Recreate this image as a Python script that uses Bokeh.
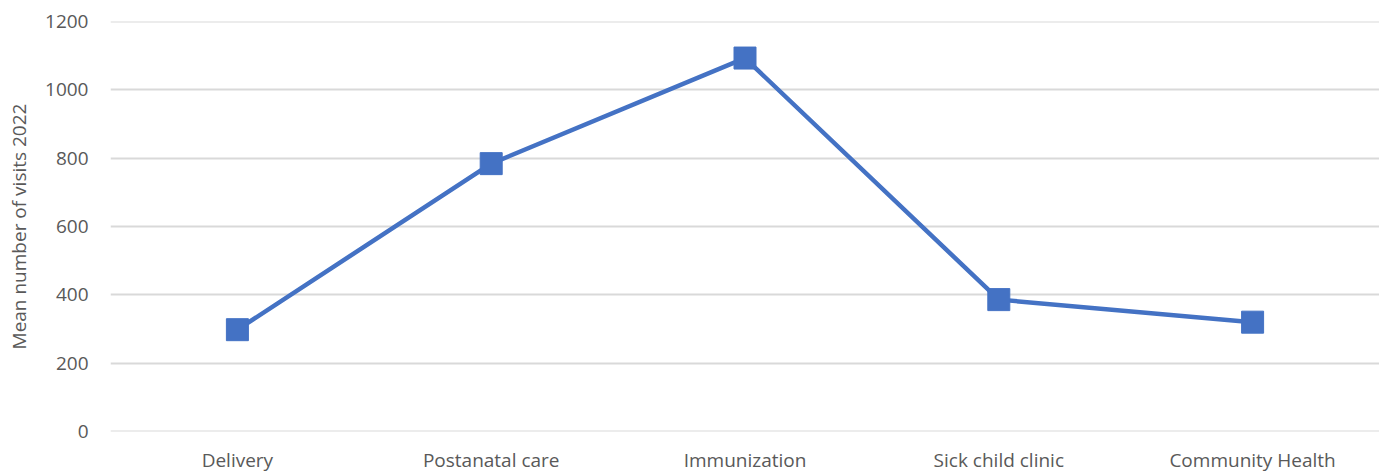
from bokeh.plotting import figure
from bokeh.models import Range1d, FactorRange
from bokeh.embed import file_html
from bokeh.resources import INLINE

categories = ["Delivery", "Postanatal care", "Immunization", "Sick child clinic", "Community Health"]
visits = [298, 784, 1093, 386, 320]
y_ticks = [0, 200, 400, 600, 800, 1000, 1200]

FONT = "Open Sans"
TXT = "#595959"

p = figure(x_range=FactorRange(*categories, range_padding=0), y_range=Range1d(0, 1200),
           frame_width=1269, frame_height=410, output_backend="svg", toolbar_location=None,
           min_border_left=110, min_border_right=0, min_border_top=21, min_border_bottom=0)
p.outline_line_color = None
p.background_fill_color = "white"

p.hspan(y=y_ticks, line_color="#d9d9d9", line_width=1.8, level="underlay")
p.line(categories, visits, line_color="#4472C4", line_width=4.5)
p.scatter(categories, visits, marker="square", size=22, fill_color="#4472C4", line_color="#4472C4")

p.yaxis.ticker = y_ticks
p.yaxis.axis_line_color = None
p.yaxis.major_tick_line_color = None
p.yaxis.minor_tick_line_color = None
p.yaxis.major_label_standoff = 16
p.yaxis.major_label_text_font = FONT
p.yaxis.major_label_text_font_size = "19px"
p.yaxis.major_label_text_color = TXT
p.yaxis.axis_label = "Mean number of visits 2022"
p.yaxis.axis_label_text_font = FONT
p.yaxis.axis_label_text_font_size = "19px"
p.yaxis.axis_label_text_font_style = "normal"
p.yaxis.axis_label_text_color = TXT
p.yaxis.axis_label_standoff = 10

p.xaxis.axis_line_color = None
p.xaxis.major_tick_line_color = None
p.xaxis.minor_tick_line_color = None
p.xaxis.major_label_standoff = 9
p.xaxis.major_label_text_font = FONT
p.xaxis.major_label_text_font_size = "19px"
p.xaxis.major_label_text_color = TXT

p.xgrid.grid_line_color = None
p.ygrid.grid_line_color = None

open("out.html", "w").write(file_html(p, INLINE))
